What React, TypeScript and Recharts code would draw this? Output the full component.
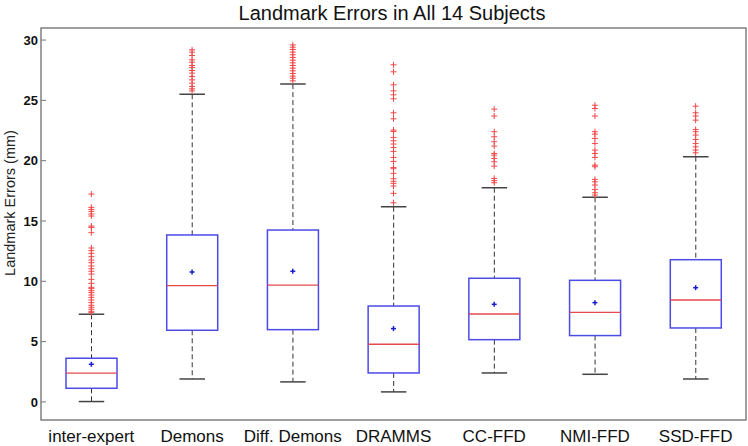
import React from 'react';
import { ComposedChart, Bar, Scatter, XAxis, YAxis, ReferenceArea } from 'recharts';

const categories = ['inter-expert', 'Demons', 'Diff. Demons', 'DRAMMS', 'CC-FFD', 'NMI-FFD', 'SSD-FFD'];
const whiskerLow = [0.03, 1.9, 1.66, 0.83, 2.4, 2.29, 1.9];
const q1 = [1.13, 5.94, 5.99, 2.4, 5.16, 5.5, 6.13];
const medians = [2.38, 9.64, 9.69, 4.78, 7.29, 7.43, 8.45];
const q3 = [3.62, 13.84, 14.25, 7.95, 10.25, 10.08, 11.79];
const whiskerHigh = [7.27, 25.5, 26.35, 16.18, 17.76, 16.96, 20.33];
const means = [3.12, 10.77, 10.83, 6.08, 8.09, 8.23, 9.47];

const outliers: number[][] = [
  [17.23, 16.13, 15.96, 15.8, 15.58, 15.41, 14.58, 14.47, 14.03, 12.76, 12.54, 12.32, 12.04, 11.76, 11.54, 11.27, 11.04,
    10.83, 10.6, 10.16, 9.83, 9.5, 9.39, 9.22, 9.06, 8.86, 8.67, 8.45, 8.23, 8.01, 7.85, 7.68, 7.51, 7.4],
  [29.19, 29.0, 28.72, 28.36, 28.17, 27.89, 27.73, 27.48, 27.26, 26.98, 26.7, 26.43, 26.15, 25.96, 25.79],
  [29.6, 29.41, 29.22, 29.0, 28.78, 28.56, 28.33, 28.11, 27.89, 27.67, 27.45, 27.23, 27.01, 26.84, 26.62],
  [27.95, 27.37, 26.29, 25.79, 25.46, 25.13, 23.97, 23.47, 22.54, 22.42, 21.93, 21.65, 21.38, 21.1, 20.77, 20.27, 19.94,
    19.44, 19.33, 18.95, 18.5, 18.29, 18.12, 17.9, 17.29, 16.51],
  [24.27, 23.7, 22.4, 21.98, 21.57, 21.21, 20.6, 20.46, 20.19, 19.91, 19.55, 18.53, 18.34, 18.17],
  [24.6, 24.33, 23.7, 22.4, 22.2, 21.85, 21.43, 20.88, 20.6, 20.27, 19.63, 19.5, 18.45, 18.25, 17.98, 17.62, 17.34, 17.15],
  [24.52, 23.97, 23.7, 23.36, 22.59, 22.4, 22.12, 21.76, 21.43, 21.15, 20.88, 20.65],
];

const yTicks = [0, 5, 10, 15, 20, 25, 30];

const rows = categories.map((name, i) => ({
  name,
  lo: whiskerLow[i],
  q1: q1[i],
  med: medians[i],
  q3: q3[i],
  hi: whiskerHigh[i],
  mean: means[i],
}));

const outlierPoints = categories.flatMap((name, i) => outliers[i].map((v) => ({ name, v })));

// box + whiskers, positions taken from the bar's [lo, hi] pixel span
const BoxShape = (props: any) => {
  const { x, y, width, height, payload } = props;
  if (x == null || y == null) return null;
  const top = Math.min(y, y + height);
  const h = Math.abs(height);
  const { lo, hi } = payload;
  const py = (v: number) => top + (h * (hi - v)) / (hi - lo);
  const cx = x + width / 2;
  const cap = width / 4;
  return (
    <g>
      <line x1={cx} x2={cx} y1={py(hi)} y2={py(payload.q3)} stroke="#333" strokeDasharray="5 3" />
      <line x1={cx} x2={cx} y1={py(payload.q1)} y2={py(lo)} stroke="#333" strokeDasharray="5 3" />
      <line x1={cx - cap} x2={cx + cap} y1={py(hi)} y2={py(hi)} stroke="#444" strokeWidth={1.5} />
      <line x1={cx - cap} x2={cx + cap} y1={py(lo)} y2={py(lo)} stroke="#444" strokeWidth={1.5} />
      <rect x={x} y={py(payload.q3)} width={width} height={py(payload.q1) - py(payload.q3)} fill="none" stroke="#4b4be6" strokeWidth={1.5} />
      <line x1={x} x2={x + width} y1={py(payload.med)} y2={py(payload.med)} stroke="#e5484d" strokeWidth={1.3} />
    </g>
  );
};

const Plus = (color: string, r: number, w: number) => (props: any) => {
  const { cx, cy } = props;
  if (cx == null || cy == null) return null;
  return (
    <g stroke={color} strokeWidth={w}>
      <line x1={cx - r} x2={cx + r} y1={cy} y2={cy} />
      <line x1={cx} x2={cx} y1={cy - r} y2={cy + r} />
    </g>
  );
};

export default function App() {
  return (
    <div style={{ position: 'absolute', left: 0, top: 0, width: 748, height: 446, background: '#fff', fontFamily: '"Liberation Sans", Arial, sans-serif' }}>
      <div style={{ position: 'absolute', left: 0, width: 784, top: 2, textAlign: 'center', fontSize: 20, color: '#111' }}>
        Landmark Errors in All 14 Subjects
      </div>
      <div
        style={{
          position: 'absolute', left: 10, top: 203, fontSize: 14.5, color: '#222', whiteSpace: 'nowrap',
          transform: 'translate(-50%, -50%) rotate(-90deg)',
        }}
      >
        Landmark Errors (mm)
      </div>
      <ComposedChart width={748} height={446} data={rows} margin={{ top: 28, right: 2, bottom: 0, left: 0 }} barCategoryGap={0}>
        <XAxis
          dataKey="name"
          type="category"
          allowDuplicatedCategory={false}
          axisLine={false}
          tickLine={false}
          height={26}
          tickMargin={4}
          tick={{ fontSize: 17, fill: '#111' }}
          interval={0}
        />
        <YAxis
          yAxisId="l"
          domain={[-1.5, 31]}
          ticks={yTicks}
          allowDataOverflow
          width={41}
          axisLine={false}
          tickSize={-5}
          tickMargin={8}
          tickLine={{ stroke: '#777' }}
          tick={{ fontSize: 13, fontWeight: 'bold', fill: '#111' }}
        />
        <YAxis
          yAxisId="r"
          orientation="right"
          domain={[-1.5, 31]}
          ticks={yTicks}
          allowDataOverflow
          width={0}
          axisLine={false}
          tickSize={-5}
          tickLine={{ stroke: '#777' }}
          tick={false}
        />
        <ReferenceArea yAxisId="l" y1={-1.5} y2={31} fill="none" stroke="#808080" strokeWidth={1.5} ifOverflow="visible" />
        <Bar yAxisId="l" dataKey={(d: any) => [d.lo, d.hi]} barSize={51} shape={BoxShape} isAnimationActive={false} />
        <Scatter yAxisId="l" dataKey="mean" shape={Plus('#1a1ad0', 2.5, 1.5)} isAnimationActive={false} />
        <Scatter yAxisId="l" data={outlierPoints} dataKey="v" shape={Plus('#f04848', 3, 1)} isAnimationActive={false} />
      </ComposedChart>
    </div>
  );
}
